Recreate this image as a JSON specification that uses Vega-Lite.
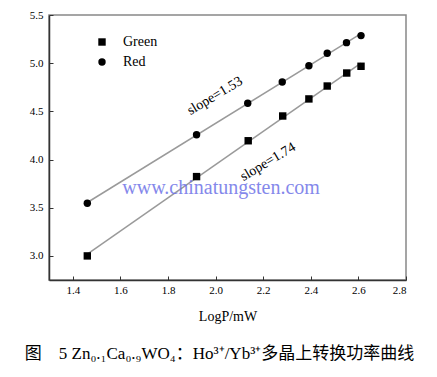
{
  "$schema": "https://vega.github.io/schema/vega-lite/v6.json",
  "width": 357,
  "height": 265,
  "autosize": "none",
  "padding": {"left": 49, "top": 15, "right": 31, "bottom": 97},
  "background": "white",
  "config": {
    "view": {"stroke": "#888", "strokeWidth": 1.5},
    "font": "Liberation Serif",
    "axis": {"grid": false, "domainColor": "#333", "domainWidth": 1.5, "tickColor": "#333", "labelColor": "#000", "titleFontWeight": "normal", "titleColor": "#000"}
  },
  "title": {
    "text": "图\u00a0\u00a0\u00a0\u00a05 Zn₀.₁Ca₀.₉WO₄：Ho³⁺/Yb³⁺多晶上转换功率曲线",
    "orient": "bottom",
    "anchor": "middle",
    "offset": 23,
    "dx": -8,
    "font": "Liberation Serif, Noto Sans CJK SC, serif",
    "fontSize": 17,
    "fontWeight": "normal",
    "color": "#000"
  },
  "data": {
    "values": [
      {"x": 1.461, "y": 3.0, "series": "Green"},
      {"x": 1.920, "y": 3.823, "series": "Green"},
      {"x": 2.137, "y": 4.195, "series": "Green"},
      {"x": 2.282, "y": 4.452, "series": "Green"},
      {"x": 2.392, "y": 4.629, "series": "Green"},
      {"x": 2.469, "y": 4.763, "series": "Green"},
      {"x": 2.551, "y": 4.898, "series": "Green"},
      {"x": 2.611, "y": 4.968, "series": "Green"},
      {"x": 1.461, "y": 3.547, "series": "Red"},
      {"x": 1.920, "y": 4.258, "series": "Red"},
      {"x": 2.135, "y": 4.584, "series": "Red"},
      {"x": 2.280, "y": 4.805, "series": "Red"},
      {"x": 2.392, "y": 4.974, "series": "Red"},
      {"x": 2.469, "y": 5.103, "series": "Red"},
      {"x": 2.550, "y": 5.213, "series": "Red"},
      {"x": 2.611, "y": 5.286, "series": "Red"}
    ]
  },
  "layer": [
    {
      "transform": [{"regression": "y", "on": "x", "groupby": ["series"]}],
      "mark": {"type": "line", "color": "#9a9a9a", "strokeWidth": 1.5},
      "encoding": {
        "x": {"field": "x", "type": "quantitative", "scale": {"domain": [1.3, 2.8], "nice": false, "zero": false}},
        "y": {"field": "y", "type": "quantitative", "scale": {"domain": [2.75, 5.5], "nice": false, "zero": false}},
        "detail": {"field": "series"}
      }
    },
    {
      "mark": {"type": "point", "filled": true, "opacity": 1, "color": "#000"},
      "encoding": {
        "x": {"field": "x", "type": "quantitative", "title": "LogP/mW",
          "axis": {"values": [1.4,1.5,1.6,1.7,1.8,1.9,2.0,2.1,2.2,2.3,2.4,2.5,2.6,2.7,2.8], "format": ".1f",
            "labelExpr": "round(datum.value*10)%2==0 ? datum.label : ''",
            "tickSize": {"condition": {"test": "round(datum.value*10)%2==1", "value": -2}, "value": -4},
            "labelFont": "Liberation Serif", "labelFontSize": 11, "titleFont": "Liberation Serif",
            "labelPadding": 8, "titleFontSize": 14, "titlePadding": 14}},
        "y": {"field": "y", "type": "quantitative", "title": null,
          "axis": {"values": [3.0,3.25,3.5,3.75,4.0,4.25,4.5,4.75,5.0,5.25,5.5], "format": ".1f",
            "labelExpr": "round(datum.value*4)%2==0 ? datum.label : ''",
            "tickSize": {"condition": {"test": "round(datum.value*4)%2==1", "value": -2}, "value": -4},
            "labelFont": "Liberation Serif", "labelFontSize": 11,
            "labelPadding": 10}},
        "shape": {"field": "series", "type": "nominal",
          "scale": {"domain": ["Green", "Red"], "range": ["square", "circle"]},
          "legend": {"title": null, "orient": "none", "legendX": 46, "legendY": 20, "labelFont": "Liberation Serif", "labelFontSize": 14, "labelColor": "#000", "symbolFillColor": "#000", "symbolStrokeColor": "#000", "symbolSize": 55, "labelOffset": 14, "rowPadding": 6}},
        "size": {"value": 55}
      }
    },
    {
      "data": {"values": [{}]},
      "mark": {"type": "text", "text": "slope=1.53", "angle": -31, "fontSize": 14, "font": "Liberation Serif", "color": "#000"},
      "encoding": {"x": {"datum": 1.997}, "y": {"datum": 4.66}}
    },
    {
      "data": {"values": [{}]},
      "mark": {"type": "text", "text": "slope=1.74", "angle": -31, "fontSize": 14, "font": "Liberation Serif", "color": "#000"},
      "encoding": {"x": {"datum": 2.22}, "y": {"datum": 3.975}}
    },
    {
      "data": {"values": [{}]},
      "mark": {"type": "text", "text": "www.chinatungsten.com", "fontSize": 20, "font": "Liberation Serif", "color": "#6f74e8", "opacity": 0.85},
      "encoding": {"x": {"datum": 2.023}, "y": {"datum": 3.705}}
    }
  ]
}
